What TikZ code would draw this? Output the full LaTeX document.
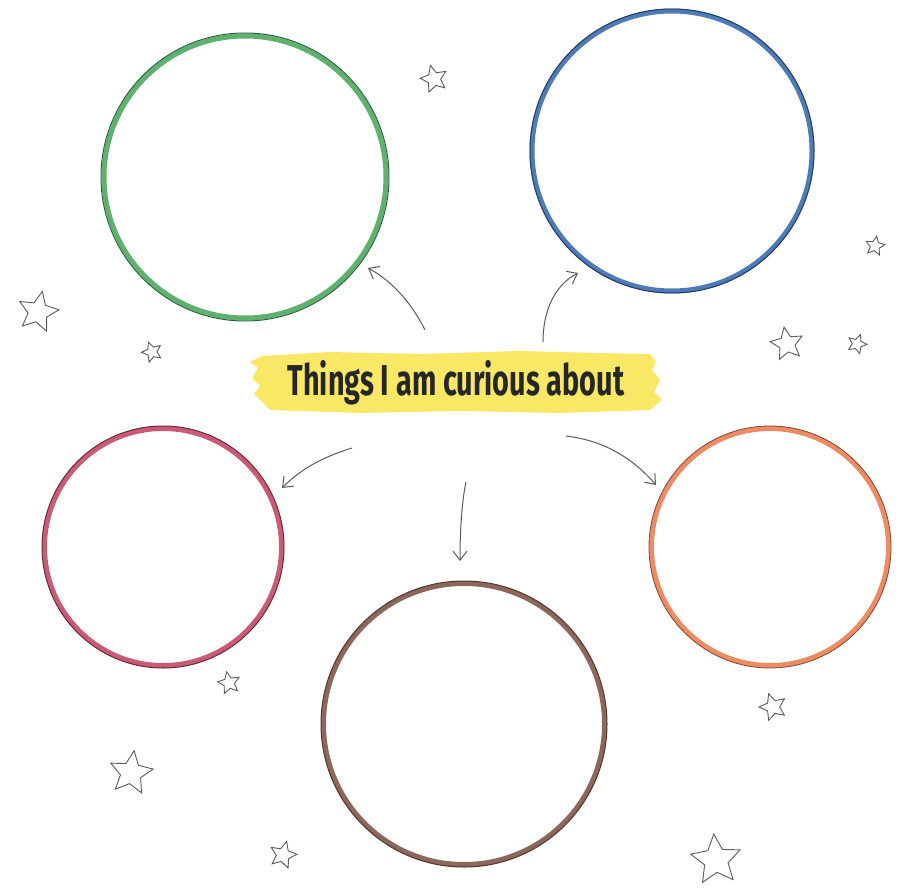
\documentclass[tikz,border=0pt]{standalone}
\usepackage{fontspec}
\setmainfont{Fira Sans}
\usetikzlibrary{shapes.geometric,arrows.meta}
\definecolor{cgreen}{RGB}{96,176,112}
\definecolor{cgreenD}{RGB}{40,100,60}
\definecolor{cblue}{RGB}{78,124,182}
\definecolor{cblueD}{RGB}{40,60,100}
\definecolor{cpink}{RGB}{200,92,118}
\definecolor{cpinkD}{RGB}{110,40,60}
\definecolor{corange}{RGB}{236,140,100}
\definecolor{corangeD}{RGB}{130,70,50}
\definecolor{cbrown}{RGB}{140,104,92}
\definecolor{cbrownD}{RGB}{80,55,45}
\definecolor{hl}{RGB}{248,232,102}
\definecolor{ink}{RGB}{90,90,90}
\tikzset{
  ring/.style={circle,draw=#1,line width=5pt,inner sep=0pt},
  startag/.style={star,star points=5,star point ratio=2.1,draw=ink,line width=0.9pt,inner sep=0pt},
  curv/.style={draw=ink,line width=1pt,-{Straight Barb[length=9pt,width=14pt]}},
}
\begin{document}
\begin{tikzpicture}[x=1pt,y=-1pt]
\useasboundingbox (0,0) rectangle (899,896);
% circles
\node[ring=cgreen,minimum size=282pt] (g) at (245,177) {};
\node[ring=cblue,minimum size=280pt] (b) at (672,151) {};
\node[ring=cpink,minimum size=237pt] (p) at (163,547) {};
\node[ring=corange,minimum size=237pt] (o) at (770,547) {};
\node[ring=cbrown,minimum size=281pt] (br) at (464,724) {};
\draw[cgreenD,line width=1pt] (245,177) circle (144pt);
\draw[cblueD,line width=1pt] (672,151) circle (142pt);
\draw[cpinkD,line width=1pt] (163,547) circle (121pt);
\draw[corangeD,line width=0.8pt] (770,547) circle (121pt);
\draw[cbrownD,line width=1pt] (464,724) circle (143pt);
% highlight band
\fill[hl] (262,356) -- (330,352) -- (420,354) -- (520,351) -- (600,353) -- (650,354)
  -- (656,362) -- (652,370) -- (660,380) -- (654,392) -- (662,400) -- (650,410)
  -- (560,413) -- (460,411) -- (360,413) -- (270,410) -- (262,402) -- (254,394)
  -- (260,386) -- (252,378) -- (258,368) -- (250,362) -- cycle;
\node[font=\fontsize{36}{36}\selectfont\bfseries,text=black!85] (t) at (456,383)
  {\scalebox{0.8}[1.2]{Things I am curious about}};
% arrow anchors
\coordinate (a1) at (425,330);
\coordinate (a2) at (543,342);
\coordinate (a3) at (352,448);
\coordinate (a4) at (466,482);
\coordinate (a5) at (566,436);
\coordinate (e1) at (368,268);
\coordinate (e2) at (578,273);
\coordinate (e3) at (282,488);
\coordinate (e4) at (460,561);
\coordinate (e5) at (656,485);
\draw[curv] (a1) .. controls (410,300) and (390,280) .. (e1);
\draw[curv] (a2) .. controls (543,310) and (555,285) .. (e2);
\draw[curv] (a3) .. controls (320,458) and (300,470) .. (e3);
\draw[curv] (a4) .. controls (462,500) and (460,530) .. (e4);
\draw[curv] (a5) .. controls (600,440) and (630,455) .. (e5);
% stars
\node[startag,minimum size=28pt,rotate=15] (s1) at (434,79) {};
\node[startag,minimum size=20pt,rotate=-10] (s2) at (875,246) {};
\node[startag,minimum size=42pt,rotate=-12] (s3) at (38,312) {};
\node[startag,minimum size=21pt,rotate=20] (s4) at (152,352) {};
\node[startag,minimum size=34pt,rotate=10] (s5) at (787,344) {};
\node[startag,minimum size=20pt,rotate=-20] (s6) at (857,344) {};
\node[startag,minimum size=23pt,rotate=12] (s7) at (229,683) {};
\node[startag,minimum size=45pt,rotate=-8] (s8) at (131,773) {};
\node[startag,minimum size=28pt,rotate=18] (s9) at (773,707) {};
\node[startag,minimum size=28pt,rotate=-15] (s10) at (283,855) {};
\node[startag,minimum size=52pt,rotate=5] (s11) at (716,860) {};
\end{tikzpicture}
\end{document}
